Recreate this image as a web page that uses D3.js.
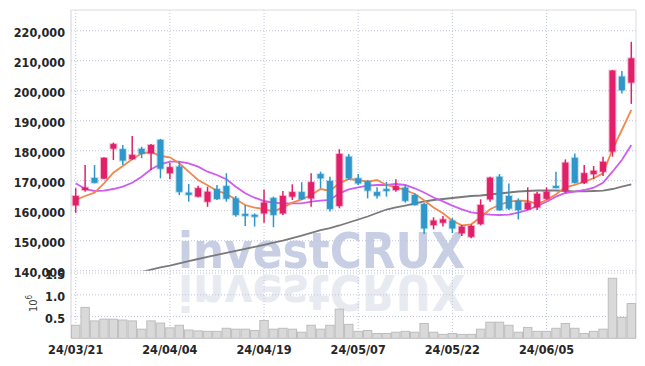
<!DOCTYPE html>
<html>
<head>
<meta charset="utf-8">
<script src="https://cdn.jsdelivr.net/npm/d3@7"></script>
<style>
  body { margin: 0; background: #fff; }
  text { font-family: "DejaVu Sans Condensed", "DejaVu Sans", sans-serif; }
</style>
</head>
<body>
<div id="container"></div>
<script>
let w = 645;
let h = 366;
let xLeft = 71;
let xRight = 636;
let yTop = 10;
let mainBottom = 270.7;
let volBottom = 338.3;

// data
let dates = ["24/03/21","24/03/22","24/03/25","24/03/26","24/03/27","24/03/28","24/03/29",
  "24/04/01","24/04/02","24/04/03","24/04/04","24/04/05","24/04/08","24/04/09","24/04/11","24/04/12",
  "24/04/15","24/04/16","24/04/17","24/04/18","24/04/19","24/04/22","24/04/23","24/04/24","24/04/25",
  "24/04/26","24/04/29","24/04/30","24/05/02","24/05/03","24/05/07","24/05/08","24/05/09","24/05/10",
  "24/05/13","24/05/14","24/05/16","24/05/17","24/05/20","24/05/21","24/05/22","24/05/23","24/05/24",
  "24/05/27","24/05/28","24/05/29","24/05/30","24/05/31","24/06/03","24/06/04","24/06/05","24/06/07",
  "24/06/10","24/06/11","24/06/12","24/06/13","24/06/14","24/06/17","24/06/18","24/06/19"];
let tickDates = ["24/03/21","24/04/04","24/04/19","24/05/07","24/05/22","24/06/05"];

let opens = [161800,166900,170900,170700,180700,180500,177200,180600,179100,183600,
  172500,174700,166000,164700,163000,167200,168200,164100,158900,158600,
  159100,164200,159100,164700,166200,164100,172200,169900,161600,178000,
  170800,169700,166200,167200,166900,167700,165200,162200,155200,156000,
  156700,152500,151300,155600,163800,171300,164900,163300,160500,161100,
  164000,168200,166700,177600,169300,172200,173000,179700,204700,202700];
let closes = [164900,167700,169300,177600,182200,176700,178600,179000,181900,174000,
  174500,166300,165300,167500,166300,163900,164000,158600,158300,158000,
  162700,158600,164900,166200,163900,169500,170800,160600,178900,170800,
  169100,166700,165000,166600,168200,163300,161900,154100,156700,157100,
  154100,154700,154900,161900,171000,160200,160700,160200,162700,165600,
  166300,167600,176000,169300,172500,173300,176300,206700,200200,210800];
let highs = [167500,175200,175200,177800,182700,181900,184900,181300,182200,183900,
  176000,176300,168900,168300,168000,168600,172500,164900,161900,159100,
  167100,164700,166600,168800,169500,172500,173000,171300,180500,178900,
  172200,170200,167800,169600,170500,168600,165800,162600,157800,158200,
  157500,155200,155400,163800,171300,172200,169100,164100,167800,166300,
  167800,173000,177100,179100,175200,174900,178000,206900,206600,216300];
let lows = [159300,166300,169100,170600,176900,175200,177100,177500,173600,170800,
  170500,165200,163000,164500,161300,163600,163000,158000,154900,154700,
  156000,154500,158600,163600,163600,161300,167500,159700,160800,170200,
  168600,164100,164100,164700,166300,162700,161700,152200,153800,154700,
  152500,151600,150800,155100,163000,160000,160200,157100,160200,160200,
  163600,167500,166000,169100,168900,170500,171600,178000,199100,195600];
let volumes = [300000,710000,400000,440000,440000,420000,400000,210000,400000,350000,
  240000,300000,190000,170000,160000,160000,230000,210000,210000,180000,
  410000,210000,230000,210000,140000,300000,210000,300000,670000,320000,
  160000,180000,110000,110000,140000,160000,140000,340000,140000,90000,
  110000,90000,90000,210000,370000,370000,300000,140000,250000,160000,
  160000,230000,340000,230000,110000,160000,210000,1380000,480000,800000];

let maShort = [163570,164900,166000,169130,172670,174900,177130,179130,179570,178230,
  177800,175800,173000,170230,168470,166670,165570,163800,161900,161000,
  160570,159670,161130,162670,163800,165230,167230,166670,169130,170570,
  170230,169670,170230,168570,167800,166900,165570,163470,161070,159130,
  156670,155130,155470,157800,160470,161900,163000,163330,163230,162230,
  163570,165470,167800,168570,169670,170800,172470,180470,186900,193570];
let maMid = [169130,167230,166570,166670,167230,168000,169330,171330,173800,175470,
  176330,176330,175800,174670,173000,171900,170470,168000,165800,164330,
  163230,162670,162470,162470,162470,163000,163330,163570,165800,167130,
  167800,168330,168570,168570,168900,168570,167470,166070,164400,163130,
  161670,160470,159470,159000,158670,158570,158670,159330,160230,161570,
  163000,164670,165900,166330,166900,167670,169330,173000,176900,181900];
let maLong = [null,null,null,null,null,null,null,
  139570,140330,141070,141730,142470,143170,143900,144570,145300,145970,
  146630,147300,147970,148630,149330,150000,150830,151730,152630,153500,
  154230,155070,156070,157070,158070,159230,160400,161070,161730,162400,
  163070,163570,163900,164230,164570,164900,165070,165400,165730,166070,
  166400,166570,166730,166800,166730,166570,166470,166470,166570,166670,
  167230,168000,168800];

let priceTicks = [140000,150000,160000,170000,180000,190000,200000,210000,220000];
let volTicks = [500000,1000000,1500000];

let upColor = "#e2206a";
let downColor = "#2f97c9";
let gridColor = "#bfc5da";

let viz = d3.select("#container")
  .append("svg")
    .attr("width", w)
    .attr("height", h)
;

let xScale = d3.scaleBand().domain(dates).range([xLeft, xRight]).padding(0);
let yScale = d3.scaleLinear().domain([140000, 226900]).range([mainBottom, yTop]);
let vScale = d3.scaleLinear().domain([0, 1554000]).range([volBottom, mainBottom]);

function xMid(i){
  return xScale(dates[i]) + xScale.bandwidth()/2;
}

viz.append("defs").append("clipPath").attr("id","mainClip")
  .append("rect")
    .attr("x", xLeft)
    .attr("y", yTop)
    .attr("width", xRight-xLeft)
    .attr("height", mainBottom-yTop)
;

// watermark + its reflection
let mark = viz.append("g").attr("class","watermark");
mark.append("text")
  .text("investCRUX")
  .attr("x", 178)
  .attr("y", 268)
  .attr("textLength", 287)
  .attr("lengthAdjust", "spacingAndGlyphs")
  .attr("font-size", 50)
  .attr("font-weight", "bold")
  .attr("fill", "#c8cfe4")
;
mark.append("text")
  .text("investCRUX")
  .attr("x", 178)
  .attr("y", 268)
  .attr("textLength", 287)
  .attr("lengthAdjust", "spacingAndGlyphs")
  .attr("font-size", 50)
  .attr("font-weight", "bold")
  .attr("fill", "#e8eaf2")
  .attr("transform", "translate(0,543) scale(1,-1)")
;

// grid
let grid = viz.append("g").attr("class","grid");
grid.selectAll(".hgrid").data(priceTicks).enter()
  .append("line")
    .attr("x1", xLeft)
    .attr("x2", xRight)
    .attr("y1", function(d){ return yScale(d); })
    .attr("y2", function(d){ return yScale(d); })
    .attr("stroke", gridColor)
    .attr("stroke-dasharray", "1,2")
;
grid.selectAll(".vgrid").data(volTicks).enter()
  .append("line")
    .attr("x1", xLeft)
    .attr("x2", xRight)
    .attr("y1", function(d){ return vScale(d); })
    .attr("y2", function(d){ return vScale(d); })
    .attr("stroke", gridColor)
    .attr("stroke-dasharray", "1,2")
;
grid.selectAll(".xgrid").data(tickDates).enter()
  .append("line")
    .attr("x1", function(d){ return xScale(d) + xScale.bandwidth()/2; })
    .attr("x2", function(d){ return xScale(d) + xScale.bandwidth()/2; })
    .attr("y1", yTop)
    .attr("y2", volBottom)
    .attr("stroke", gridColor)
    .attr("stroke-dasharray", "1,2")
;

// frame
viz.append("line").attr("x1",xLeft).attr("x2",xLeft).attr("y1",yTop).attr("y2",volBottom).attr("stroke","#d3d4dc");
viz.append("line").attr("x1",xLeft).attr("x2",xRight).attr("y1",yTop).attr("y2",yTop).attr("stroke","#dcdce2");
viz.append("line").attr("x1",xRight).attr("x2",xRight).attr("y1",yTop).attr("y2",volBottom).attr("stroke","#dcdce2");

// volume bars
viz.append("g").attr("class","volume")
  .selectAll("rect").data(volumes).enter()
  .append("rect")
    .attr("x", function(d,i){ return xScale(dates[i]) + 0.5; })
    .attr("y", function(d){ return vScale(d); })
    .attr("width", xScale.bandwidth() - 1)
    .attr("height", function(d){ return volBottom - vScale(d); })
    .attr("fill", "#d9d9d9")
    .attr("stroke", "#bdbdbd")
    .attr("stroke-width", 1)
;

// moving average lines
let lineGroup = viz.append("g").attr("clip-path","url(#mainClip)");
function drawLine(values, color){
  let line = d3.line()
    .defined(function(d){ return d !== null; })
    .x(function(d,i){ return xMid(i); })
    .y(function(d){ return yScale(d); });
  lineGroup.append("path")
    .datum(values)
    .attr("d", line)
    .attr("fill", "none")
    .attr("stroke", color)
    .attr("stroke-width", 1.8)
  ;
}
drawLine(maLong, "#7a7a7a");
drawLine(maMid, "#cf5cf0");
drawLine(maShort, "#f0894d");

// candles
let candles = viz.append("g").attr("class","candles")
  .selectAll(".candle").data(dates).enter()
  .append("g")
    .attr("class","candle")
;
let bodyW = 6;
candles.append("line")
  .attr("x1", function(d,i){ return xMid(i); })
  .attr("x2", function(d,i){ return xMid(i); })
  .attr("y1", function(d,i){ return yScale(highs[i]); })
  .attr("y2", function(d,i){ return yScale(lows[i]); })
  .attr("stroke", function(d,i){ return closes[i] >= opens[i] ? upColor : downColor; })
  .attr("stroke-width", 1.5)
;
candles.append("rect")
  .attr("x", function(d,i){ return xMid(i) - bodyW/2; })
  .attr("y", function(d,i){ return yScale(Math.max(opens[i], closes[i])); })
  .attr("width", bodyW)
  .attr("height", function(d,i){ return Math.max(1.5, Math.abs(yScale(opens[i]) - yScale(closes[i]))); })
  .attr("fill", function(d,i){ return closes[i] >= opens[i] ? upColor : downColor; })
  .attr("stroke", function(d,i){ return closes[i] >= opens[i] ? upColor : downColor; })
  .attr("stroke-opacity", 0.3)
  .attr("stroke-width", 2)
;

// axis labels
let labels = viz.append("g").attr("class","labels");
labels.selectAll(".ylab").data(priceTicks).enter()
  .append("text")
    .text(function(d){ return d3.format(",")(d); })
    .attr("x", 65)
    .attr("y", function(d){ return yScale(d) + 6.5; })
    .attr("text-anchor", "end")
    .attr("font-size", 12.5)
    .attr("font-weight", "bold")
    .attr("fill", "#262626")
;
labels.selectAll(".vlab").data(volTicks).enter()
  .append("text")
    .text(function(d){ return (d/1e6).toFixed(1); })
    .attr("x", 65)
    .attr("y", function(d){ return vScale(d) + 6; })
    .attr("text-anchor", "end")
    .attr("font-size", 12.5)
    .attr("font-weight", "bold")
    .attr("fill", "#262626")
;
labels.selectAll(".xlab").data(tickDates).enter()
  .append("text")
    .text(function(d){ return d; })
    .attr("x", function(d){ return xScale(d) + xScale.bandwidth()/2; })
    .attr("y", 354)
    .attr("text-anchor", "middle")
    .attr("font-size", 12.5)
    .attr("font-weight", "bold")
    .attr("fill", "#262626")
;
let unit = labels.append("text")
  .attr("transform", "translate(37,312) rotate(-90)")
  .attr("font-size", 11)
  .attr("fill", "#444")
;
unit.append("tspan").text("10");
unit.append("tspan").text("6").attr("font-size", 8).attr("dy", -5);
</script>
</body>
</html>
